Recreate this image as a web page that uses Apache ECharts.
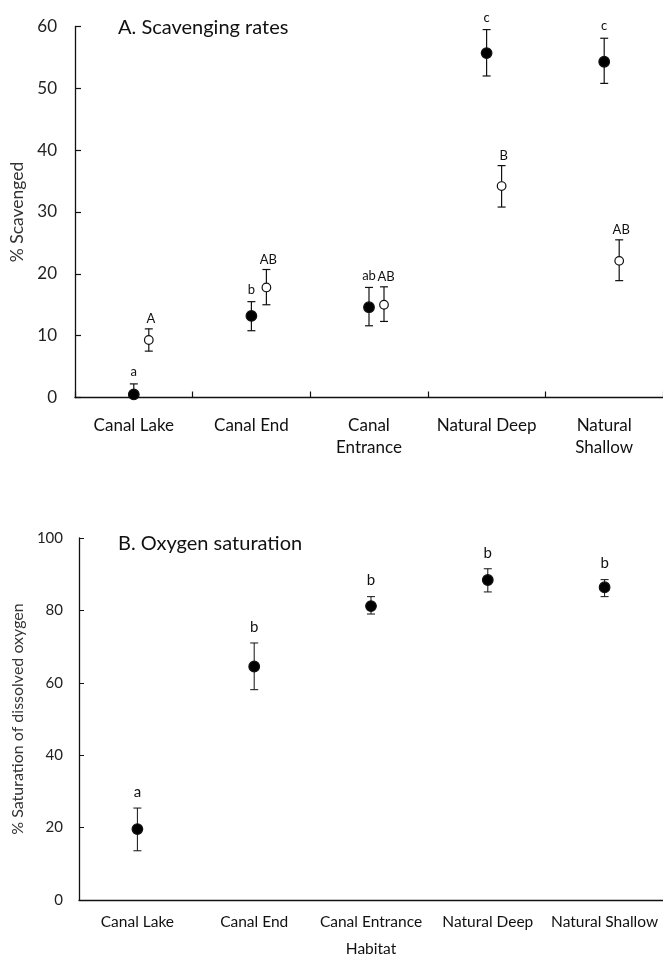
<!DOCTYPE html>
<html>
<head>
<meta charset="utf-8">
<script src="https://cdn.jsdelivr.net/npm/echarts@6/dist/echarts.min.js"></script>
<style>
  html, body { margin: 0; padding: 0; background: #fff; }
  #main { width: 663px; height: 958px; }
</style>
</head>
<body>
<div id="main"></div>
<script>
// habitats
var habitatsA = ["Canal Lake", "Canal End", "Canal\nEntrance", "Natural Deep", "Natural\nShallow"];
var habitatsB = ["Canal Lake", "Canal End", "Canal Entrance", "Natural Deep", "Natural Shallow"];

// panel A, filled dots
var scavFilled = [0.5, 13.2, 14.6, 55.7, 54.3];
var scavFilledLo = [0, 10.8, 11.6, 52.0, 50.8];
var scavFilledHi = [2.2, 15.5, 17.8, 59.5, 58.1];
var scavFilledLetters = ["a", "b", "ab", "c", "c"];

// panel A, open dots
var scavOpen = [9.3, 17.8, 15.0, 34.2, 22.1];
var scavOpenLo = [7.5, 15.0, 12.3, 30.8, 18.9];
var scavOpenHi = [11.1, 20.7, 17.9, 37.5, 25.5];
var scavOpenLetters = ["A", "AB", "AB", "B", "AB"];

// panel B
var oxygen = [19.6, 64.5, 81.2, 88.4, 86.4];
var oxygenLo = [13.6, 58.1, 79.0, 85.1, 83.8];
var oxygenHi = [25.4, 71.0, 83.8, 91.5, 88.5];
var oxygenLetters = ["a", "b", "b", "b", "b"];

var ticksA = [0, 10, 20, 30, 40, 50, 60];
var ticksB = [0, 20, 40, 60, 80, 100];

var FONT = "Lato";
var INK = "#111";

var chart = echarts.init(document.getElementById("main"), null, { renderer: "canvas" });

// error bar + dot + letter, one custom series per group
function dotSeries(idx, means, lows, highs, letters, st) {
  return {
    type: "custom",
    xAxisIndex: idx,
    yAxisIndex: idx,
    clip: false,
    data: means.map(function (m, i) { return [i, m, lows[i], highs[i]]; }),
    renderItem: function (params, api) {
      var c = api.value(0);
      var pm = api.coord([c, api.value(1)]);
      var pl = api.coord([c, api.value(2)]);
      var ph = api.coord([c, api.value(3)]);
      var x = pm[0] + st.dx;
      var cw = st.cap;
      var ls = { stroke: INK, lineWidth: st.lw };
      return {
        type: "group",
        children: [
          { type: "line", shape: { x1: x, y1: pl[1], x2: x, y2: ph[1] }, style: ls },
          { type: "line", shape: { x1: x - cw, y1: ph[1], x2: x + cw, y2: ph[1] }, style: ls },
          { type: "line", shape: { x1: x - cw, y1: pl[1], x2: x + cw, y2: pl[1] }, style: ls },
          { type: "circle", shape: { cx: x, cy: pm[1], r: st.r },
            style: { fill: st.fill, stroke: INK, lineWidth: 1.2 } },
          { type: "text", x: x + st.tx, y: ph[1] - st.gap,
            style: { text: letters[params.dataIndex], fill: INK, font: st.fs + "px " + FONT,
                     align: "center", verticalAlign: "middle" } }
        ]
      };
    }
  };
}

var axisLine = { show: true, lineStyle: { color: INK, width: 1.3 } };

var option = {
  animation: false,
  backgroundColor: "#fff",
  title: [
    { text: "A. Scavenging rates", left: 113, top: 13,
      textStyle: { fontFamily: FONT, fontSize: 20, fontWeight: "normal", color: INK } },
    { text: "B. Oxygen saturation", left: 113, top: 529,
      textStyle: { fontFamily: FONT, fontSize: 20, fontWeight: "normal", color: INK } }
  ],
  grid: [
    { left: 75, top: 26.5, right: 0, height: 371 },
    { left: 79, top: 538, right: 0, height: 364 }
  ],
  xAxis: [
    { type: "category", gridIndex: 0, data: habitatsA,
      axisLine: axisLine,
      axisTick: { show: true, inside: true, length: 6, lineStyle: { color: INK, width: 1.2 } },
      axisLabel: { fontFamily: FONT, fontSize: 17, color: INK, margin: 17, lineHeight: 22, interval: 0 },
      splitLine: { show: false } },
    { type: "category", gridIndex: 1, data: habitatsB,
      name: "Habitat", nameLocation: "middle", nameGap: 41,
      nameTextStyle: { fontFamily: FONT, fontSize: 15.5, color: INK },
      axisLine: axisLine,
      axisTick: { show: false },
      axisLabel: { fontFamily: FONT, fontSize: 15.5, color: INK, margin: 14, interval: 0 },
      splitLine: { show: false } }
  ],
  yAxis: [
    { type: "value", gridIndex: 0, min: ticksA[0], max: ticksA[ticksA.length - 1], interval: 10,
      name: "% Scavenged", nameLocation: "middle", nameGap: 47,
      nameTextStyle: { fontFamily: FONT, fontSize: 17.5, color: "#333" },
      axisLine: axisLine,
      axisTick: { show: true, inside: true, length: 6, lineStyle: { color: INK, width: 1.2 } },
      axisLabel: { fontFamily: FONT, fontSize: 17, color: "#222", margin: 18 },
      splitLine: { show: false } },
    { type: "value", gridIndex: 1, min: ticksB[0], max: ticksB[ticksB.length - 1], interval: 20,
      name: "% Saturation of dissolved oxygen", nameLocation: "middle", nameGap: 51,
      nameTextStyle: { fontFamily: FONT, fontSize: 16, color: "#333" },
      axisLine: axisLine,
      axisTick: { show: true, inside: true, length: 5, lineStyle: { color: INK, width: 1 } },
      axisLabel: { fontFamily: FONT, fontSize: 15, color: "#222", margin: 16 },
      splitLine: { show: false } }
  ],
  series: [
    dotSeries(0, scavFilled, scavFilledLo, scavFilledHi, scavFilledLetters,
      { dx: 0, tx: 0, r: 5.3, fill: "#000", lw: 1.2, cap: 4, gap: 12, fs: 13 }),
    dotSeries(0, scavOpen, scavOpenLo, scavOpenHi, scavOpenLetters,
      { dx: 15, tx: 2, r: 4.3, fill: "#fff", lw: 1.2, cap: 4, gap: 10, fs: 13 }),
    dotSeries(1, oxygen, oxygenLo, oxygenHi, oxygenLetters,
      { dx: 0, tx: 0, r: 5.3, fill: "#000", lw: 1, cap: 4, gap: 16, fs: 15 })
  ]
};

chart.setOption(option);
</script>
</body>
</html>
